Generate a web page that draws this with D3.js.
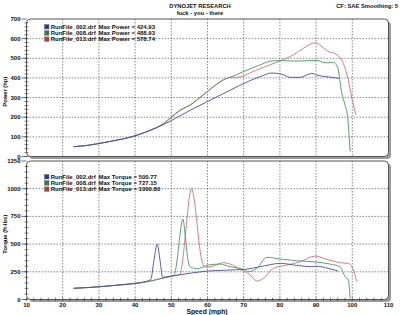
<!DOCTYPE html>
<html>
  <head>
    <script src="https://d3js.org/d3.v7.min.js"></script>
    <style>
      body { margin: 0; background: #fff; }
      text { font-family: "Liberation Sans", Arial, sans-serif; font-weight: bold; fill: #111; }
    </style>
  </head>
  <body>
    <script type="text/javascript">

    // run files, colours and peak values shown in the legends
    var files = ["RunFile_002.drf", "RunFile_008.drf", "RunFile_013.drf"];
    var maxPower = ["424.93", "488.93", "578.74"];
    var maxTorque = ["500.77", "727.15", "1000.80"];
    var lineColors = ["#4a4ab2", "#3f9a5e", "#d46e6e"];
    var boxColors = ["#2a35a8", "#2f7f3e", "#c23a3a"];

    // ticks
    var speedTicks = [10, 20, 30, 40, 50, 60, 70, 80, 90, 100, 110];
    var powerTicks = [0, 100, 200, 300, 400, 500, 600, 700];
    var torqueTicks = [0, 250, 500, 750, 1000, 1250];

    // power (hp) vs speed (mph)
    var powerSpeed002 = [23, 27, 30, 34, 38.6, 44, 47.8, 50, 55, 60, 66, 71.7, 74.5, 77.7, 80.3, 82.8, 85.6, 88.8, 90.2, 93, 96.4];
    var power002      = [50, 57, 66, 80, 98, 132, 162, 183, 233, 280, 335, 386, 406, 425, 420, 403, 403, 423, 414, 406, 398];

    var powerSpeed008 = [23, 27, 30, 34, 38.6, 44, 47.8, 50, 52.4, 55.2, 58.8, 61.6, 65.3, 66.2, 69.9, 74.5, 77.5, 80.3, 83.7, 87, 90.2, 92.5, 94.8, 95.9, 97.1, 98, 98.7, 99.4];
    var power008      = [50, 57, 66, 80, 98, 132, 166, 198, 234, 262, 313, 355, 398, 403, 432, 466, 486, 488, 486, 487, 489, 477, 478, 457, 322, 262, 203, 25];

    var powerSpeed013 = [23, 27, 30, 34, 38.6, 44, 47.8, 50, 52.4, 55.2, 58.8, 61.6, 65.3, 66.2, 68, 70, 72, 74.5, 77, 80.3, 83.7, 86.5, 89.7, 91.1, 93, 95.8, 97.5, 98.9, 99.8, 101];
    var power013      = [50, 57, 66, 80, 98, 133, 168, 202, 236, 262, 313, 355, 398, 403, 403, 410, 428, 447, 465, 488, 517, 551, 579, 567, 538, 517, 474, 389, 304, 211];

    // torque (ft-lbs) vs speed (mph)
    var torqueSpeed002 = [23, 27, 30, 34, 38.6, 41.6, 44.3, 45.2, 46.1, 46.9, 47.6, 48.5, 50.1, 55, 60.2, 65, 70.4, 74.5, 80.2, 84.6, 88.8, 90.2, 93.4, 96.1];
    var torque002      = [101, 108, 115, 126, 140, 152, 180, 350, 501, 350, 200, 203, 212, 236, 257, 265, 272, 296, 326, 308, 296, 300, 281, 257];

    var torqueSpeed008 = [23, 27, 30, 34, 38.6, 41.6, 45, 48, 50, 50.8, 51.5, 52.3, 53.2, 53.9, 54.5, 55.2, 57.1, 60.2, 63.4, 66.2, 70.4, 71.3, 73.6, 76.4, 80.2, 84.6, 90.2, 93.8, 96.6, 98, 98.9, 99.4];
    var torque008      = [101, 108, 115, 126, 140, 152, 172, 196, 210, 225, 330, 560, 727, 560, 380, 296, 278, 311, 320, 296, 266, 251, 281, 380, 365, 350, 338, 320, 296, 206, 176, 10];

    var torqueSpeed013 = [23, 27, 30, 34, 38.6, 41.6, 45, 48, 50, 52.4, 53.3, 54.3, 55, 55.6, 56.2, 57, 57.8, 58.4, 59.4, 61.6, 64.4, 66.2, 69, 71.8, 73.6, 75.4, 78.2, 81.9, 85.6, 89.7, 93, 96.6, 98.9, 100.3, 101.2];
    var torque013      = [101, 108, 115, 126, 140, 152, 172, 196, 210, 225, 400, 717, 930, 1000, 930, 717, 480, 356, 290, 302, 332, 320, 272, 221, 167, 191, 281, 311, 341, 392, 362, 332, 326, 266, 161];

    var powerRuns = [[powerSpeed002, power002], [powerSpeed008, power008], [powerSpeed013, power013]];
    var torqueRuns = [[torqueSpeed002, torque002], [torqueSpeed008, torque008], [torqueSpeed013, torque013]];

    var svg = d3.select("body").append("svg")
        .attr("width", 400)
        .attr("height", 315);

    var x = d3.scaleLinear().domain([10, 110]).range([26.5, 388.5]);
    var yPower = d3.scaleLinear().domain([0, 700]).range([156.5, 19]);
    var yTorque = d3.scaleLinear().domain([0, 1250]).range([299.5, 161]);

    // header texts
    svg.append("text").attr("x", 200).attr("y", 7.5).attr("text-anchor", "middle")
        .style("font-size", "5.8px").text("DYNOJET RESEARCH");
    svg.append("text").attr("x", 200).attr("y", 15).attr("text-anchor", "middle")
        .style("font-size", "5.8px").text("fuck - you - there");
    svg.append("text").attr("x", 398).attr("y", 7.5).attr("text-anchor", "end")
        .style("font-size", "5.8px").text("CF: SAE  Smoothing: 5");

    drawPanel(yPower, powerTicks, 20, powerRuns, "Power (hp)", "Max Power = ", maxPower, 27, false);
    drawPanel(yTorque, torqueTicks, 50, torqueRuns, "Torque (ft-lbs)", "Max Torque = ", maxTorque, 177, true);

    svg.append("text").attr("x", 207).attr("y", 314).attr("text-anchor", "middle")
        .style("font-size", "6.8px").text("Speed (mph)");

    function drawPanel(y, ticks, minorStep, runs, title, maxLabel, maxValues, legendTop, showSpeed) {
        var x0 = x.range()[0], x1 = x.range()[1];
        var top = y.range()[1], bottom = y.range()[0];
        var g = svg.append("g");

        // shadow and frame
        g.append("rect").attr("x", x0 + 2.5).attr("y", top + 2.5)
            .attr("width", x1 - x0).attr("height", bottom - top)
            .attr("rx", 4).attr("fill", "#9a9a9a");
        g.append("rect").attr("x", x0).attr("y", top)
            .attr("width", x1 - x0).attr("height", bottom - top)
            .attr("rx", 4).attr("fill", "#fff").attr("stroke", "#555").attr("stroke-width", 1);

        // grid
        g.selectAll(".vgrid").data(speedTicks.slice(1, -1)).enter().append("line")
            .attr("x1", function (d) { return x(d); }).attr("x2", function (d) { return x(d); })
            .attr("y1", top).attr("y2", bottom)
            .attr("stroke", "#555").attr("stroke-width", 0.7).attr("stroke-dasharray", "1.5,1.5");
        g.selectAll(".hgrid").data(ticks.slice(1, -1)).enter().append("line")
            .attr("x1", x0).attr("x2", x1)
            .attr("y1", function (d) { return y(d); }).attr("y2", function (d) { return y(d); })
            .attr("stroke", "#555").attr("stroke-width", 0.7).attr("stroke-dasharray", "1.5,1.5");

        // y axis ticks and labels
        var minors = d3.range(0, ticks[ticks.length - 1], minorStep);
        g.selectAll(".minor").data(minors).enter().append("line")
            .attr("x1", x0 - 2).attr("x2", x0 + 2)
            .attr("y1", function (d) { return y(d); }).attr("y2", function (d) { return y(d); })
            .attr("stroke", "#333").attr("stroke-width", 0.6);
        g.selectAll(".major").data(ticks).enter().append("line")
            .attr("x1", x0 - 5).attr("x2", x0)
            .attr("y1", function (d) { return y(d); }).attr("y2", function (d) { return y(d); })
            .attr("stroke", "#333").attr("stroke-width", 0.7);
        g.selectAll(".ylab").data(ticks).enter().append("text")
            .attr("x", 20.5).attr("y", function (d) { return y(d) + 2; })
            .attr("text-anchor", "end").style("font-size", "6px")
            .text(function (d) { return d; });
        g.append("text")
            .attr("transform", "translate(7," + ((top + bottom) / 2 + 4) + ") rotate(-90)")
            .attr("text-anchor", "middle").style("font-size", "5.8px").text(title);

        // speed axis
        if (showSpeed) {
            g.selectAll(".xminor").data(d3.range(10, 110, 2)).enter().append("line")
                .attr("x1", function (d) { return x(d); }).attr("x2", function (d) { return x(d); })
                .attr("y1", bottom - 2).attr("y2", bottom + 1.5)
                .attr("stroke", "#333").attr("stroke-width", 0.6);
            g.selectAll(".xlab").data(speedTicks).enter().append("text")
                .attr("x", function (d) { return x(d); }).attr("y", bottom + 7.5)
                .attr("text-anchor", "middle").style("font-size", "6px")
                .text(function (d) { return d; });
        }

        // curves
        var line = d3.line()
            .x(function (d) { return x(d[0]); })
            .y(function (d) { return y(d[1]); })
            .curve(d3.curveMonotoneX);
        [2, 1, 0].forEach(function (i) {
            var pts = d3.zip(runs[i][0], runs[i][1]);
            g.append("path").datum(pts).attr("d", line)
                .attr("fill", "none").attr("stroke", lineColors[i]).attr("stroke-width", 0.9);
        });

        // legend
        files.forEach(function (f, i) {
            var ly = legendTop + i * 6.2;
            g.append("rect").attr("x", 44.5).attr("y", ly - 2.5).attr("width", 4.5).attr("height", 4.5)
                .attr("fill", boxColors[i]).attr("stroke", "#666").attr("stroke-width", 0.4);
            g.append("text").attr("x", 50.7).attr("y", ly + 2).style("font-size", "6px").text(f);
            g.append("text").attr("x", 98.5).attr("y", ly + 2).style("font-size", "6px")
                .text(maxLabel + maxValues[i]);
        });
    }

    </script>
  </body>
</html>
